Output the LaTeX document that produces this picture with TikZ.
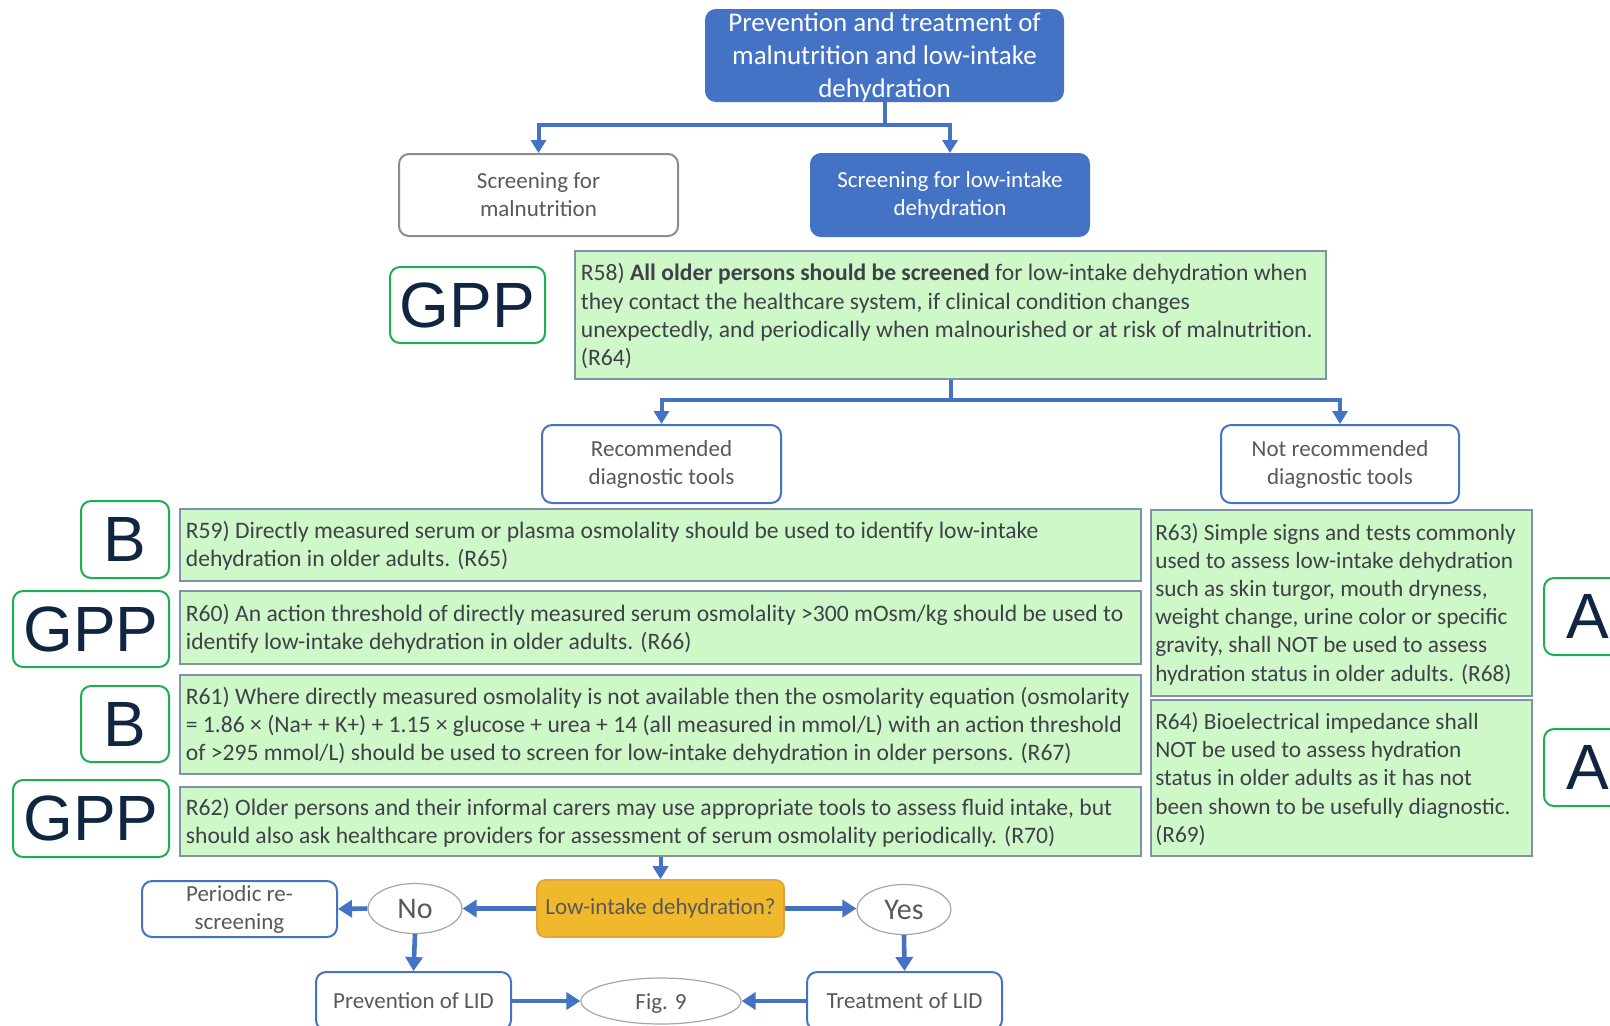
\documentclass[tikz,border=0pt]{standalone}
\usepackage{fontspec}
\setmainfont{Carlito}
\newfontfamily\arialf{Liberation Sans}
\usetikzlibrary{arrows.meta,shapes.geometric}
\definecolor{blueA}{HTML}{4472C4}
\definecolor{rgreen}{HTML}{CFF8C9}
\definecolor{rbd}{HTML}{7F92A8}
\definecolor{ggreen}{HTML}{1BAF4E}
\definecolor{navy}{HTML}{0F2540}
\definecolor{decfill}{HTML}{F0B82C}
\definecolor{decbd}{HTML}{E3A23B}
\definecolor{txtA}{HTML}{3F4148}
\definecolor{txtB}{HTML}{595959}
\definecolor{grayA}{HTML}{8C8C8C}
\definecolor{ellbd}{HTML}{A6A6A6}
\newcommand\rfont{\fontsize{11.8}{14.1}\selectfont}
\newcommand\rfontB{\fontsize{11.65}{14.1}\selectfont}
\newcommand\bfontA{\fontsize{11.5}{14}\selectfont}
\begin{document}
\begin{tikzpicture}[x=0.5pt,y=-0.5pt,
  rbox/.style={draw=rbd, fill=rgreen, line width=0.9pt, inner sep=0pt},
  rtext/.style={anchor=west, align=left, inner sep=0pt, font=\rfont, text=txtA},
  grade/.style={draw=ggreen, fill=white, line width=1pt, rounded corners=5pt, inner sep=0pt, font=\arialf\fontsize{32}{34}\selectfont, text=navy, minimum height=38pt},
  wbox/.style={draw=blueA, fill=white, line width=1pt, rounded corners=5pt, align=center, inner sep=0pt, font=\bfontA, text=txtB},
  bbox/.style={draw=blueA, fill=blueA, line width=1pt, rounded corners=5pt, align=center, inner sep=0pt, font=\bfontA, text=white},
  ell/.style={draw=ellbd, fill=white, line width=0.6pt, ellipse, inner sep=0pt, text=txtB},
  arr/.style={draw=blueA, line width=2pt, -{Triangle[width=7.5pt,length=6.5pt]}},
  arrB/.style={draw=blueA, line width=2.3pt, -{Triangle[width=8.5pt,length=7pt]}},
  ln/.style={draw=blueA, line width=2pt}
]
\useasboundingbox (0,0) rectangle (1610,1025);
\fill[white] (0,0) rectangle (1610,1025);

% top
\node[bbox, minimum width=178.5pt, minimum height=45.5pt] (top) at (884.5,55.5) {};
\node[align=center, inner sep=0pt, text=white, font=\fontsize{13.5}{16.4}\selectfont] (toptx) at (884.5,57.5) {Prevention and treatment of\\malnutrition and low-intake\\dehydration};

\node[wbox, draw=grayA, minimum width=139.5pt, minimum height=41pt] (mal) at (538.5,195) {Screening for\\malnutrition};
\node[bbox, minimum width=139pt, minimum height=41pt] (lid) at (950,195) {Screening for low-intake\\dehydration};

\coordinate (j1) at (884.5,125);
\draw[ln] (top.south) -- (j1);
\draw[arr] (j1) -| (mal.north);
\draw[arr] (j1) -| (lid.north);

% R58
\node[grade, minimum width=77.5pt] (g1) at (467.5,305) {GPP};
\node[rbox, minimum width=375.5pt, minimum height=64pt] (r58) at (950.5,315) {};
\node[rtext] (r58t) at ([xshift=3.2pt,yshift=-0.6pt]r58.west) {R58) \textbf{All older persons should be screened} for low-intake dehydration when\\they contact the healthcare system, if clinical condition changes\\unexpectedly, and periodically when malnourished or at risk of malnutrition.\\(R64)};

\node[wbox, minimum width=119.5pt, minimum height=39pt] (rec) at (661.5,464) {Recommended\\diagnostic tools};
\node[wbox, minimum width=119pt, minimum height=39pt] (nrec) at (1340,464) {Not recommended\\diagnostic tools};

\coordinate (j2) at (950.5,400);
\draw[ln] (r58.south) -- (j2);
\draw[arr] (j2) -| (rec.north);
\draw[arr] (j2) -| (nrec.north);

% left column
\node[rbox, minimum width=480.5pt, minimum height=36pt] (r59) at (660.5,545) {};
\node[rtext] (r59t) at ([xshift=3.2pt,yshift=-0.5pt]r59.west) {R59) Directly measured serum or plasma osmolality should be used to identify low-intake\\dehydration in older adults. (R65)};
\node[rbox, minimum width=480.5pt, minimum height=36.5pt] (r60) at (660.5,627.5) {};
\node[rtext] (r60t) at ([xshift=3.2pt,yshift=-0.5pt]r60.west) {R60) An action threshold of directly measured serum osmolality >300 mOsm/kg should be used to\\identify low-intake dehydration in older adults. (R66)};
\node[rbox, minimum width=480.5pt, minimum height=49.5pt] (r61) at (660.5,724.5) {};
\node[rtext] (r61t) at ([xshift=3.2pt,yshift=-0.5pt]r61.west) {R61) Where directly measured osmolality is not available then the osmolarity equation (osmolarity\\= 1.86 × (Na+ + K+) + 1.15 × glucose + urea + 14 (all measured in mmol/L) with an action threshold\\of >295 mmol/L) should be used to screen for low-intake dehydration in older persons. (R67)};
\node[rbox, minimum width=480.5pt, minimum height=34.5pt] (r62) at (660.5,821.5) {};
\node[rtext] (r62t) at ([xshift=3.2pt,yshift=-0.5pt]r62.west) {R62) Older persons and their informal carers may use appropriate tools to assess fluid intake, but\\should also ask healthcare providers for assessment of serum osmolality periodically. (R70)};

% right column
\node[rbox, minimum width=190.5pt, minimum height=93pt] (r63) at (1341.5,603) {};
\node[rtext, font=\rfontB] (r63t) at ([xshift=2.4pt,yshift=-0.5pt]r63.west) {R63) Simple signs and tests commonly\\used to assess low-intake dehydration\\such as skin turgor, mouth dryness,\\weight change, urine color or specific\\gravity, shall NOT be used to assess\\hydration status in older adults. (R68)};
\node[rbox, minimum width=190.5pt, minimum height=78pt] (r64) at (1341.5,778) {};
\node[rtext, font=\rfontB] (r64t) at ([xshift=2.4pt,yshift=-0.5pt]r64.west) {R64) Bioelectrical impedance shall\\NOT be used to assess hydration\\status in older adults as it has not\\been shown to be usefully diagnostic.\\(R69)};

% grades
\node[grade, minimum width=44pt, minimum height=38.5pt] (g2) at (125,539.5) {B};
\node[grade, minimum width=78pt] (g3) at (91,629) {GPP};
\node[grade, minimum width=44pt] (g4) at (125,724) {B};
\node[grade, minimum width=78pt, minimum height=38.5pt] (g5) at (91,818.5) {GPP};
\node[grade, minimum width=44pt, minimum height=38.5pt] (g6) at (1588,616.5) {A};
\node[grade, minimum width=44pt, minimum height=38.5pt] (g7) at (1588,767.5) {A};

% bottom
\node[draw=decbd, fill=decfill, line width=0.8pt, rounded corners=4pt, minimum width=123.5pt, minimum height=28.5pt, inner sep=0pt, font=\bfontA, text=txtB] (dec) at (660.5,908.5) {Low-intake dehydration?};
\node[ell, minimum width=47pt, minimum height=25pt, font=\fontsize{15}{17}\selectfont] (no) at (415,908.5) {No};
\node[ell, minimum width=47pt, minimum height=25pt, font=\fontsize{15}{17}\selectfont] (yes) at (904,909.5) {Yes};
\node[wbox, minimum width=97.5pt, minimum height=28pt] (per) at (239.5,909) {Periodic re-\\screening};
\node[wbox, minimum width=97.5pt, minimum height=29pt] (prev) at (413.5,1001) {Prevention of LID};
\node[wbox, minimum width=97.5pt, minimum height=29pt] (treat) at (904.5,1001) {Treatment of LID};
\node[ell, minimum width=80pt, minimum height=23pt, font=\bfontA, text height=1em, text depth=0.2em] (fig) at (661,1001) {Fig. 9};

\draw[arr] (r62.south) -- (dec.north);
\draw[arrB] (dec.west) -- (no.east);
\draw[arrB] (no.west) -- (per.east);
\draw[arrB] (dec.east) -- (dec.east -| yes.west);
\draw[arrB] (no.south) -- (prev.north);
\draw[arrB] (yes.south) -- (treat.north);
\draw[arrB] (prev.east) -- (fig.west);
\draw[arrB] (treat.west) -- (fig.east);
\end{tikzpicture}
\end{document}
